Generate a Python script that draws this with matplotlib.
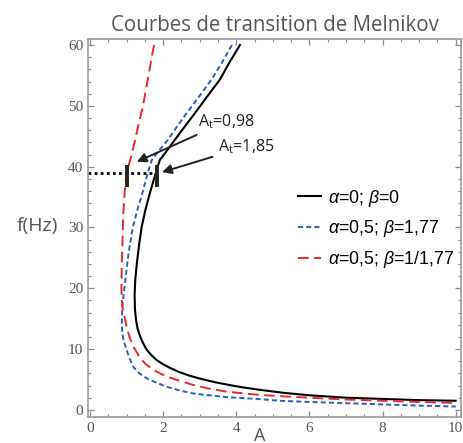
import numpy as np
import matplotlib.pyplot as plt
from matplotlib.ticker import MultipleLocator

# curves, ordered from the top (f=60) round the nose to A=10
black_A = [4.10, 3.80, 3.55, 3.20, 2.87, 2.58, 2.32, 2.10, 1.91, 1.80, 1.64, 1.52, 1.41, 1.34,
           1.28, 1.24, 1.22, 1.23, 1.26, 1.30, 1.37, 1.45, 1.55, 1.68, 1.82, 2.00, 2.19, 2.45,
           2.73, 3.10, 3.46, 3.80, 4.18, 4.64, 5.30, 6.0, 7.0, 8.0, 9.0, 10.0]
black_f = [60, 57, 54.3, 51.5, 48.8, 46.5, 44.4, 42.6, 41.1, 39, 35.7, 33, 30, 27,
           24, 21.5, 19, 16.5, 14.8, 13.4, 12.1, 11, 9.9, 9.0, 8.2, 7.5, 6.9, 6.2,
           5.6, 5.0, 4.5, 4.1, 3.7, 3.3, 2.8, 2.4, 2.0, 1.8, 1.6, 1.5]

blue_A = [3.88, 3.60, 3.32, 2.98, 2.64, 2.37, 2.13, 1.88, 1.69, 1.58, 1.45, 1.30, 1.17, 1.06,
          0.98, 0.92, 0.88, 0.87, 0.90, 0.94, 1.00, 1.08, 1.18, 1.35, 1.55, 1.80, 2.10, 2.45,
          2.82, 3.25, 3.73, 4.55, 5.2, 6.0, 7.0, 8.0, 9.0, 10.0]
blue_f = [60, 57, 54.3, 51.5, 48.8, 46.5, 44.4, 42.6, 41.1, 39, 36, 33, 30, 26,
          22, 19, 16.5, 13.7, 12, 11, 9.9, 8.5, 7.1, 6.0, 5.2, 4.5, 3.8, 3.2,
          2.7, 2.4, 2.1, 1.8, 1.5, 1.3, 1.1, 0.9, 0.7, 0.55]

red_A = [1.75, 1.60, 1.45, 1.33, 1.22, 1.12, 1.00, 0.95, 0.91, 0.89, 0.87, 0.86, 0.87, 0.90,
         0.96, 1.02, 1.09, 1.20, 1.37, 1.53, 1.73, 1.95, 2.19, 2.50, 2.82, 3.25, 3.73, 4.55,
         5.2, 6.0, 7.0, 8.0, 9.0, 10.0]
red_f = [60, 55, 50, 47, 44, 41.5, 39, 36, 32, 28, 24, 20, 18, 16.3,
         14.8, 13.2, 11.8, 10.3, 8.5, 7.5, 6.6, 5.9, 5.3, 4.7, 4.1, 3.5, 3.0, 2.5,
         2.25, 2.0, 1.7, 1.5, 1.3, 1.15]

labels = [r'$\alpha$=0; $\beta$=0', r'$\alpha$=0,5; $\beta$=1,77', r'$\alpha$=0,5; $\beta$=1/1,77']

f_level = 39
A_marks = [1.0, 1.82]
mark_text = [r'A$_\mathregular{t}$=0,98', r'A$_\mathregular{t}$=1,85']

plt.rcParams['mathtext.fontset'] = 'custom'
plt.rcParams['mathtext.rm'] = 'Liberation Sans'
plt.rcParams['mathtext.it'] = 'Liberation Sans:italic'

fig = plt.figure(figsize=(4.64, 4.43), dpi=100)
ax = fig.add_axes([0.19, 0.059, 0.803, 0.853])

ax.plot(black_A, black_f, color='black', lw=1.5, label=labels[0])
ax.plot(blue_A, blue_f, color='#2b5db5', lw=1.4, ls=(0, (2.6, 1.6)), label=labels[1])
ax.plot(red_A, red_f, color='#e8282b', lw=1.4, ls=(0, (5.5, 2.8)), label=labels[2])

# dotted level line and the two marks
ax.plot([-0.05, A_marks[1]], [f_level, f_level], color='black', lw=2.0, ls=(0, (1, 1.2)))
for a in A_marks:
    ax.plot([a, a], [36.7, 40.3], color='#222222', lw=2.8, solid_capstyle='butt')

ax.annotate(mark_text[0], xy=(1.28, 40.8), xytext=(2.95, 47.4), fontsize=11.5,
            family='Open Sans', color='#222222', va='center',
            arrowprops=dict(arrowstyle='-|>', color='#222222', lw=1.4, mutation_scale=14,
                            shrinkA=2, shrinkB=0))
ax.annotate(mark_text[1], xy=(1.97, 39.1), xytext=(3.5, 43.3), fontsize=11.5,
            family='Open Sans', color='#222222', va='center',
            arrowprops=dict(arrowstyle='-|>', color='#222222', lw=1.4, mutation_scale=14,
                            shrinkA=2, shrinkB=0))

ax.set_xlim(-0.05, 10.14)
ax.set_ylim(-1.15, 61.0)
ax.xaxis.set_major_locator(MultipleLocator(2))
ax.xaxis.set_minor_locator(MultipleLocator(0.5))
ax.yaxis.set_major_locator(MultipleLocator(10))
ax.yaxis.set_minor_locator(MultipleLocator(2))
ax.tick_params(which='both', direction='in', top=True, right=True, color='#8a8a8a',
               labelcolor='#555555', labelsize=11)
ax.tick_params(which='major', length=4.5, width=0.9)
ax.tick_params(which='minor', length=2.2, width=0.8)
for lab in ax.get_xticklabels() + ax.get_yticklabels():
    lab.set_family('Liberation Serif')
for s in ax.spines.values():
    s.set_color('#9a9a9a')
    s.set_linewidth(1.2)

ax.set_title('Courbes de transition de Melnikov', family='Open Sans', fontsize=14.8,
             color='#555555', pad=6, x=0.50)
ax.set_xlabel('A', family='Open Sans', fontsize=13, color='#555555', va='center')
ax.xaxis.set_label_coords(0.461, -0.05)
ax.set_ylabel('f(Hz)', family='Open Sans', fontsize=14, color='#555555', rotation=0,
              ha='center', va='center')
ax.yaxis.set_label_coords(-0.137, 0.505)

ax.legend(loc='upper left', bbox_to_anchor=(0.54, 0.63), frameon=False,
          handlelength=1.3, handletextpad=0.35, labelspacing=0.55, borderpad=0,
          prop={'family': 'Liberation Sans', 'size': 12.8})

fig.savefig('out.png', dpi=100)
